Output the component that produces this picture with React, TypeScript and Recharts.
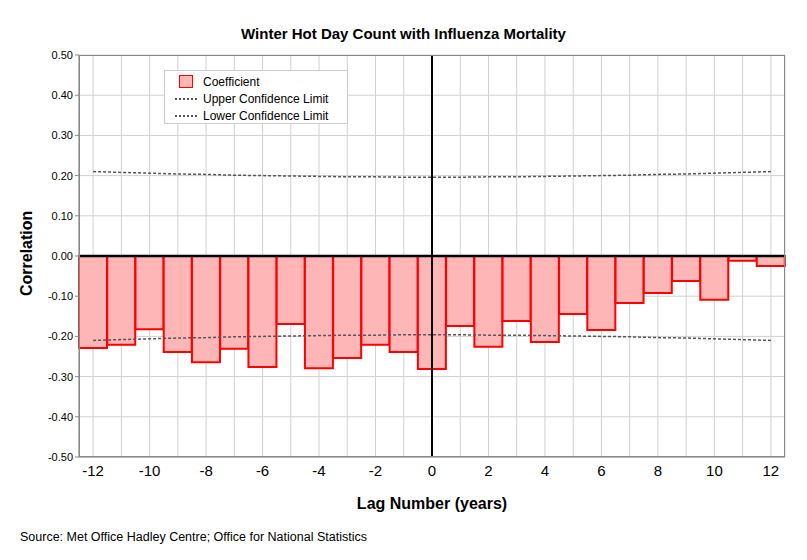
import React from "react";
import { ComposedChart, Bar, Line, XAxis, YAxis, CartesianGrid, ReferenceLine } from "recharts";

const lags = [-12,-11,-10,-9,-8,-7,-6,-5,-4,-3,-2,-1,0,1,2,3,4,5,6,7,8,9,10,11,12];
const coefficient = [-0.229,-0.221,-0.182,-0.239,-0.264,-0.231,-0.276,-0.169,-0.279,-0.254,-0.221,-0.239,-0.281,-0.174,-0.226,-0.162,-0.214,-0.144,-0.184,-0.117,-0.092,-0.062,-0.109,-0.012,-0.025];
const upperLimit = [0.210,0.208,0.206,0.204,0.203,0.201,0.200,0.199,0.198,0.197,0.197,0.196,0.196,0.196,0.197,0.197,0.198,0.199,0.200,0.201,0.203,0.204,0.206,0.208,0.210];
const lowerLimit = upperLimit.map((v) => -v);
const yTicks = [-0.5,-0.4,-0.3,-0.2,-0.1,0,0.1,0.2,0.3,0.4,0.5];

const data = lags.map((lag, i) => ({ lag, coef: coefficient[i], ucl: upperLimit[i], lcl: lowerLimit[i] }));

export default function App() {
  const font = "Arial, 'Liberation Sans', sans-serif";
  return (
    <div style={{ position: "absolute", left: 0, top: 0, width: 807, height: 560, background: "#fff", fontFamily: font }}>
      <div style={{ position: "absolute", top: 25, width: 807, textAlign: "center", fontWeight: "bold", fontSize: 15 }}>
        Winter Hot Day Count with Influenza Mortality
      </div>
      <ComposedChart width={807} height={560} data={data} barCategoryGap={0}
        margin={{ top: 55, right: 22, bottom: 43, left: 0 }}>
        <CartesianGrid stroke="#d0d0d0" />
        <XAxis dataKey="lag" interval={0} height={60} tickLine={false} stroke="#888"
          tick={{ fill: "#000", fontSize: 15, fontFamily: font }}
          tickFormatter={(v) => (Number(v) % 2 === 0 ? (Number(v) < 0 ? "-" + Math.abs(v) : String(v)) : "")}
          label={{ value: "Lag Number (years)", position: "insideBottom", offset: 8, fontSize: 16, fontWeight: "bold", fill: "#000" }} />
        <YAxis type="number" domain={[-0.5, 0.5]} ticks={yTicks} interval={0} width={79} stroke="#888" tickSize={4}
          tick={{ fill: "#000", fontSize: 11, fontFamily: font }}
          tickFormatter={(v) => Number(v).toFixed(2)}
          label={{ value: "Correlation", angle: -90, position: "insideLeft", offset: 26, dy: 40, fontSize: 16, fontWeight: "bold", fill: "#000" }} />
        <Bar dataKey="coef" fill="#ffb6b6" stroke="#ff0000" strokeWidth={2} isAnimationActive={false} />
        <Line dataKey="ucl" stroke="#555" strokeDasharray="3 2" strokeWidth={1.5} dot={false} isAnimationActive={false} />
        <Line dataKey="lcl" stroke="#555" strokeDasharray="3 2" strokeWidth={1.5} dot={false} isAnimationActive={false} />
        <ReferenceLine y={0} stroke="#000" strokeWidth={2.5} />
        <ReferenceLine x={0} stroke="#000" strokeWidth={2} />
      </ComposedChart>
      <div style={{ position: "absolute", left: 79, top: 55, width: 706, height: 402, border: "1px solid #888", boxSizing: "border-box", pointerEvents: "none" }} />
      <div style={{ position: "absolute", left: 164, top: 70, width: 184, height: 54, background: "#fff", border: "1px solid #ccc", boxSizing: "border-box", fontSize: 12, padding: "2px 0 0 10px" }}>
        <div style={{ display: "flex", alignItems: "center", height: 17 }}>
          <span style={{ width: 12, height: 11, background: "#ffb6b6", border: "1.5px solid #f00", marginRight: 10, marginLeft: 4 }} />Coefficient
        </div>
        <div style={{ display: "flex", alignItems: "center", height: 17 }}>
          <span style={{ width: 22, borderTop: "2px dotted #555", marginRight: 6 }} />Upper Confidence Limit
        </div>
        <div style={{ display: "flex", alignItems: "center", height: 17 }}>
          <span style={{ width: 22, borderTop: "2px dotted #555", marginRight: 6 }} />Lower Confidence Limit
        </div>
      </div>
      <div style={{ position: "absolute", left: 20, top: 530, fontSize: 12.5 }}>
        Source: Met Office Hadley Centre; Office for National Statistics
      </div>
    </div>
  );
}
